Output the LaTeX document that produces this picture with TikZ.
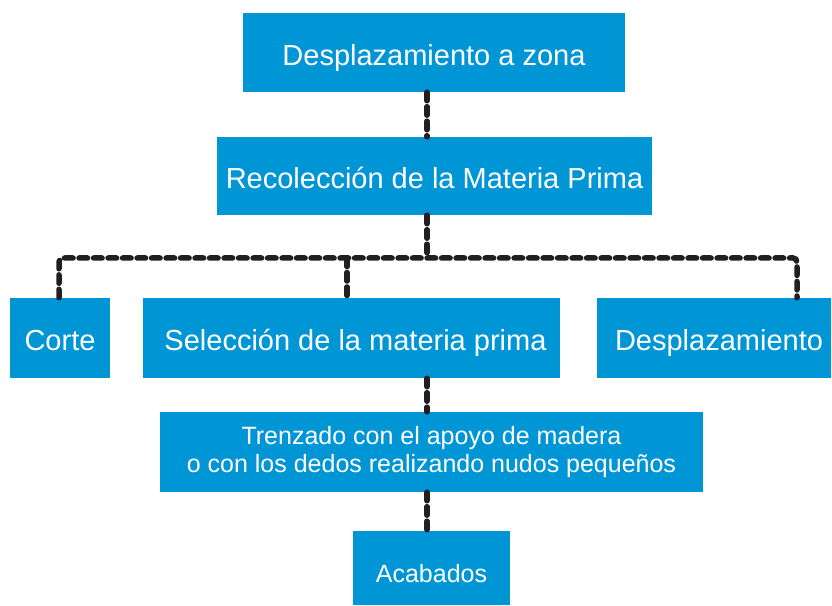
\documentclass[tikz,border=0pt]{standalone}
\usepackage{fontspec}
\setmainfont{Liberation Sans}
\definecolor{boxblue}{RGB}{0,150,214}
\definecolor{linedark}{RGB}{35,31,32}
\begin{document}
\begin{tikzpicture}[x=1pt,y=1pt,
        stage/.style={fill=boxblue, text=white, inner sep=0pt, align=center,
            text height=26pt, text depth=0pt,
            font=\fontsize{29}{32}\selectfont},
        smallstage/.style={fill=boxblue, text=white, inner sep=0pt, align=center,
            font=\fontsize{25}{27.5}\selectfont},
        link/.style={linedark, line width=5.5pt, line cap=round,
            dash pattern=on 8.5pt off 6pt}]
        \useasboundingbox (0,0) rectangle (832,605);
        % boxes
        \node[stage, minimum width=382pt, minimum height=79pt] (zona) at (434,552.5) {Desplazamiento a zona};
        \node[stage, minimum width=435pt, minimum height=78pt] (recol) at (434.5,429) {Recolección de la Materia Prima};
        \node[stage, minimum width=100pt, minimum height=80pt] (corte) at (60,267) {Corte};
        \node[stage, minimum width=417pt, minimum height=80pt] (selec) at (351.5,267) {\hspace{8pt}Selección de la materia prima};
        \node[stage, minimum width=234pt, minimum height=80pt] (despl) at (714,267) {\hspace{10pt}Desplazamiento};
        \node[smallstage, minimum width=543pt, minimum height=80pt] (trenz) at (431.5,153) {Trenzado con el apoyo de madera\\o con los dedos realizando nudos pequeños};
        \node[smallstage, text height=28pt, text depth=0pt, minimum width=157pt, minimum height=74pt] (acab) at (431.5,37) {Acabados};
        % connectors
        \coordinate (bus) at (427,347);
        \coordinate (busl) at (59,347);
        \coordinate (busm) at (347,347);
        \coordinate (busr) at (797,347);
        \draw[link] (zona.south -| bus) -- (recol.north -| bus);
        \draw[link] (recol.south -| bus) -- (bus);
        \draw[link, rounded corners=4pt] (corte.north -| busl) -- (busl) -- (busr) -- (despl.north -| busr);
        \draw[link] (busm) -- (selec.north -| busm);
        \draw[link] (selec.south -| bus) -- (trenz.north -| bus);
        \draw[link] (trenz.south -| bus) -- (acab.north -| bus);
\end{tikzpicture}
\end{document}
